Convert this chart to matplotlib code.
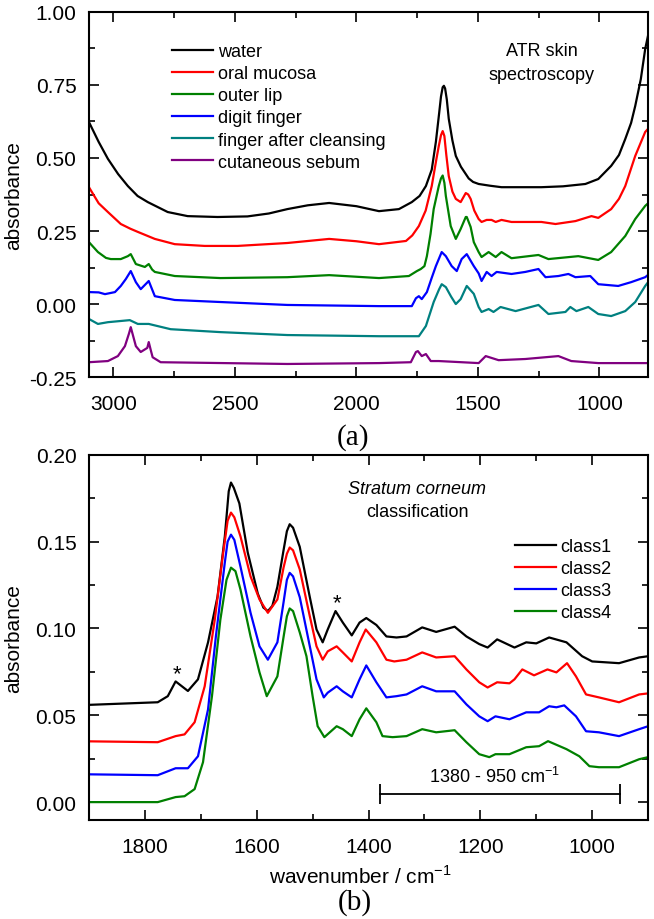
import numpy as np
import matplotlib.pyplot as plt
from matplotlib.ticker import MultipleLocator

plt.rcParams['font.family'] = ['Liberation Sans', 'DejaVu Sans']

# ---- panel (a): ATR skin spectra ----
labels_a = ['water', 'oral mucosa', 'outer lip', 'digit finger',
            'finger after cleansing', 'cutaneous sebum']
colors_a = ['#000000', '#ff0000', '#008000', '#0000ff', '#008080', '#800080']

wn_water = [3100, 3060, 3022, 2980, 2940, 2900, 2858, 2776, 2694, 2571, 2448, 2360, 2284,
            2200, 2112, 2000, 1907, 1825, 1772, 1740, 1714, 1690, 1673, 1660, 1652, 1645, 1640,
            1635, 1628, 1620, 1605, 1591, 1570, 1550, 1538, 1520, 1497, 1450, 1403, 1300, 1239,
            1150, 1058, 1005, 952, 920, 894, 870, 853, 830, 812, 800]
ab_water = [0.623, 0.555, 0.497, 0.445, 0.404, 0.37, 0.349, 0.315, 0.301, 0.298, 0.30, 0.31, 0.325,
            0.338, 0.346, 0.335, 0.318, 0.325, 0.349, 0.37, 0.404, 0.46, 0.555, 0.65, 0.71, 0.742, 0.747,
            0.738, 0.70, 0.634, 0.56, 0.507, 0.47, 0.445, 0.43, 0.418, 0.411, 0.405, 0.40, 0.40, 0.40,
            0.403, 0.411, 0.428, 0.473, 0.51, 0.565, 0.62, 0.678, 0.77, 0.873, 0.92]

wn_mucosa = [3100, 3060, 3022, 2969, 2930, 2899, 2829, 2747, 2624, 2489, 2284, 2112, 2000,
             1907, 1796, 1770, 1743, 1715, 1690, 1670, 1661, 1652, 1645, 1638, 1630, 1620, 1605,
             1591, 1571, 1550, 1540, 1530, 1515, 1497, 1485, 1464, 1444, 1427, 1403, 1362,
             1239, 1181, 1099, 1033, 1005, 952, 920, 894, 853, 812, 800]
ab_mucosa = [0.40, 0.345, 0.315, 0.274, 0.258, 0.247, 0.223, 0.205, 0.199, 0.199, 0.209, 0.223, 0.215,
             0.205, 0.216, 0.235, 0.267, 0.32, 0.404, 0.50, 0.541, 0.578, 0.592, 0.575, 0.51, 0.438, 0.385,
             0.36, 0.349, 0.38, 0.375, 0.36, 0.32, 0.291, 0.281, 0.288, 0.288, 0.281, 0.288, 0.281,
             0.281, 0.274, 0.284, 0.301, 0.295, 0.325, 0.36, 0.404, 0.507, 0.589, 0.60]

wn_lip = [3100, 3063, 3030, 3010, 2969, 2940, 2928, 2915, 2907, 2870, 2854, 2840, 2829, 2747,
          2559, 2284, 2112, 1907, 1784, 1751, 1735, 1720, 1710, 1695, 1682, 1661, 1652, 1645,
          1638, 1632, 1612, 1591, 1571, 1550, 1546, 1530, 1517, 1497, 1485, 1456, 1427, 1403, 1362,
          1251, 1210, 1087, 1005, 952, 894, 853, 812, 800]
ab_lip = [0.212, 0.178, 0.158, 0.154, 0.154, 0.164, 0.171, 0.15, 0.137, 0.127, 0.137, 0.118, 0.11, 0.096,
          0.089, 0.092, 0.099, 0.089, 0.096, 0.113, 0.12, 0.13, 0.164, 0.24, 0.325, 0.404, 0.43, 0.44,
          0.415, 0.37, 0.267, 0.223, 0.257, 0.298, 0.298, 0.264, 0.212, 0.178, 0.161, 0.178, 0.161, 0.178, 0.157,
          0.168, 0.154, 0.164, 0.151, 0.178, 0.233, 0.291, 0.336, 0.345]

wn_finger = [3100, 3060, 3034, 2993, 2969, 2948, 2928, 2907, 2887, 2854, 2829, 2747, 2559, 2284,
             1907, 1772, 1755, 1743, 1731, 1710, 1690, 1673, 1649, 1632, 1608, 1587, 1567, 1546,
             1517, 1497, 1485, 1464, 1444, 1423, 1362, 1305, 1251, 1222, 1169, 1128, 1099, 1038,
             1005, 923, 870, 812, 800]
ab_finger = [0.041, 0.04, 0.034, 0.041, 0.062, 0.086, 0.113, 0.075, 0.051, 0.079, 0.027, 0.014, 0.007, -0.003,
             -0.007, -0.007, 0.02, 0.027, 0.017, 0.041, 0.09, 0.13, 0.178, 0.164, 0.13, 0.113, 0.154, 0.171,
             0.13, 0.105, 0.079, 0.11, 0.096, 0.11, 0.103, 0.11, 0.12, 0.092, 0.096, 0.103, 0.092, 0.096,
             0.068, 0.062, 0.075, 0.092, 0.10]

wn_clean = [3100, 3063, 3022, 2932, 2899, 2854, 2764, 2559, 2284, 1907, 1743, 1714, 1682, 1660,
            1649, 1632, 1610, 1591, 1571, 1546, 1517, 1497, 1485, 1456, 1436, 1407, 1345, 1251,
            1210, 1140, 1120, 1095, 1046, 1005, 952, 894, 853, 812, 800]
ab_clean = [-0.051, -0.068, -0.062, -0.055, -0.068, -0.068, -0.086, -0.096, -0.106, -0.11, -0.11, -0.075, 0.007, 0.05,
            0.068, 0.058, 0.025, 0.0, 0.017, 0.062, 0.035, -0.01, -0.027, -0.017, -0.027, -0.01, -0.024, -0.003,
            -0.034, -0.027, -0.01, -0.024, -0.01, -0.034, -0.041, -0.024, 0.007, 0.062, 0.075]

wn_sebum = [3100, 3022, 2981, 2952, 2935, 2928, 2918, 2907, 2887, 2860, 2854, 2845, 2838, 2805,
            2284, 1907, 1776, 1755, 1747, 1731, 1714, 1694, 1661, 1497, 1468, 1415, 1305, 1169,
            1116, 1005, 800]
ab_sebum = [-0.199, -0.195, -0.178, -0.144, -0.10, -0.079, -0.11, -0.144, -0.164, -0.15, -0.13, -0.16, -0.182, -0.199,
            -0.205, -0.202, -0.199, -0.164, -0.161, -0.178, -0.171, -0.195, -0.195, -0.202, -0.178, -0.192, -0.188, -0.178,
            -0.195, -0.202, -0.202]

wn_a = [wn_water, wn_mucosa, wn_lip, wn_finger, wn_clean, wn_sebum]
ab_a = [ab_water, ab_mucosa, ab_lip, ab_finger, ab_clean, ab_sebum]

# ---- panel (b): stratum corneum classes ----
labels_b = ['class1', 'class2', 'class3', 'class4']
colors_b = ['#000000', '#ff0000', '#0000ff', '#008000']

wn_c1 = [1900, 1777, 1759, 1745, 1735, 1723, 1705, 1687, 1670, 1657, 1650, 1646, 1641, 1631, 1616,
         1598, 1588, 1580, 1572, 1563, 1552, 1546, 1541, 1535, 1523, 1505, 1493, 1482, 1473, 1459,
         1446, 1430, 1416, 1404, 1386, 1368, 1350, 1332, 1304, 1279, 1246, 1225, 1202, 1187, 1170,
         1139, 1118, 1100, 1077, 1046, 1018, 1000, 952, 916, 900]
ab_c1 = [0.056, 0.0575, 0.061, 0.0695, 0.067, 0.064, 0.0707, 0.092, 0.1184, 0.153, 0.179, 0.184, 0.181, 0.172, 0.1437,
         0.12, 0.112, 0.11, 0.113, 0.124, 0.145, 0.156, 0.16, 0.158, 0.147, 0.118, 0.0994, 0.092, 0.0994, 0.11,
         0.1034, 0.096, 0.1034, 0.106, 0.102, 0.0954, 0.0948, 0.0954, 0.1006, 0.098, 0.101, 0.0954, 0.091, 0.089, 0.0937,
         0.089, 0.092, 0.0914, 0.0948, 0.092, 0.084, 0.081, 0.08, 0.0833, 0.084]

wn_c2 = [1900, 1777, 1745, 1729, 1711, 1693, 1675, 1661, 1652, 1646, 1640, 1629, 1611, 1595, 1580,
         1563, 1552, 1546, 1541, 1535, 1523, 1505, 1493, 1482, 1473, 1457, 1446, 1430, 1416, 1405,
         1386, 1368, 1354, 1332, 1304, 1279, 1246, 1225, 1202, 1187, 1170, 1148, 1139, 1125, 1104,
         1080, 1064, 1045, 1029, 1011, 988, 952, 916, 900]
ab_c2 = [0.035, 0.0345, 0.038, 0.039, 0.046, 0.0667, 0.105, 0.141, 0.162, 0.1667, 0.164, 0.153, 0.13, 0.1167, 0.109,
         0.1167, 0.135, 0.143, 0.1466, 0.145, 0.134, 0.107, 0.0897, 0.082, 0.0868, 0.0897, 0.0862, 0.081, 0.092, 0.0994,
         0.092, 0.082, 0.081, 0.082, 0.0862, 0.0833, 0.084, 0.0764, 0.069, 0.066, 0.069, 0.0684, 0.0707, 0.0764, 0.073,
         0.0764, 0.0747, 0.08, 0.0724, 0.062, 0.0603, 0.0575, 0.062, 0.0626]

wn_c3 = [1900, 1777, 1745, 1723, 1705, 1687, 1673, 1657, 1652, 1646, 1640, 1629, 1611, 1595, 1580,
         1563, 1552, 1546, 1541, 1535, 1523, 1505, 1493, 1480, 1473, 1457, 1446, 1430, 1416, 1404,
         1386, 1368, 1350, 1332, 1304, 1279, 1246, 1225, 1202, 1187, 1173, 1148, 1118, 1095, 1077,
         1064, 1050, 1029, 1011, 988, 952, 916, 900]
ab_c3 = [0.016, 0.0155, 0.0195, 0.0195, 0.0264, 0.0534, 0.0954, 0.138, 0.150, 0.154, 0.151, 0.1356, 0.109, 0.0897, 0.082,
         0.092, 0.115, 0.128, 0.132, 0.130, 0.118, 0.0897, 0.0707, 0.0603, 0.063, 0.0667, 0.0638, 0.0603, 0.0707, 0.0787,
         0.069, 0.0603, 0.061, 0.062, 0.0667, 0.0638, 0.0638, 0.0563, 0.0494, 0.0466, 0.0494, 0.0477, 0.0517, 0.0517, 0.0552,
         0.0546, 0.0557, 0.0494, 0.0408, 0.0402, 0.038, 0.042, 0.0437]

wn_c4 = [1900, 1777, 1745, 1729, 1711, 1696, 1680, 1665, 1654, 1646, 1638, 1629, 1611, 1595, 1582,
         1563, 1552, 1546, 1541, 1535, 1523, 1511, 1500, 1491, 1479, 1457, 1446, 1430, 1416, 1404,
         1386, 1375, 1357, 1332, 1304, 1279, 1246, 1225, 1202, 1184, 1173, 1148, 1118, 1095, 1079,
         1046, 1023, 1005, 988, 952, 916, 900]
ab_c4 = [0.0, 0.0, 0.0029, 0.0034, 0.0075, 0.023, 0.061, 0.105, 0.128, 0.135, 0.133, 0.1224, 0.0954, 0.0747, 0.061,
         0.0724, 0.095, 0.107, 0.1115, 0.110, 0.0977, 0.084, 0.061, 0.0437, 0.0374, 0.0437, 0.042, 0.038, 0.0477, 0.054,
         0.046, 0.038, 0.0374, 0.038, 0.042, 0.0402, 0.0414, 0.0345, 0.0276, 0.0259, 0.0276, 0.0276, 0.0316, 0.0322, 0.0351,
         0.0305, 0.0264, 0.0207, 0.0201, 0.0201, 0.0247, 0.0259]

wn_b = [wn_c1, wn_c2, wn_c3, wn_c4]
ab_b = [ab_c1, ab_c2, ab_c3, ab_c4]

bracket_range = [1380, 950]
star_wn = [1743, 1457]

fig = plt.figure(figsize=(6.54, 9.2), dpi=100)
ax1 = fig.add_axes([0.136, 0.589, 0.855, 0.397])
ax2 = fig.add_axes([0.136, 0.1076, 0.855, 0.397])


def style_axes(ax):
    for sp in ax.spines.values():
        sp.set_linewidth(1.5)
    ax.tick_params(which='both', direction='in', top=True, right=True, width=1.2, labelsize=15)
    ax.tick_params(which='major', length=7)
    ax.tick_params(which='minor', length=4.5)
    ax.tick_params(axis='x', pad=12)
    ax.tick_params(axis='y', pad=9)
    ax.set_ylabel('absorbance', fontsize=15)
    ax.yaxis.set_label_coords(-0.134, 0.5)
    ax.yaxis.label.set_verticalalignment('center')


for w, a, c, l in zip(wn_a, ab_a, colors_a, labels_a):
    ax1.plot(w, a, color=c, lw=1.6, label=l, solid_joinstyle='round')
ax1.set_xlim(3100, 800)
ax1.set_ylim(-0.25, 1.0)
ax1.xaxis.set_major_locator(MultipleLocator(500))
ax1.xaxis.set_minor_locator(MultipleLocator(250))
ax1.yaxis.set_major_locator(MultipleLocator(0.25))
ax1.yaxis.set_minor_locator(MultipleLocator(0.125))
ax1.yaxis.set_major_formatter(plt.FormatStrFormatter('%.2f'))
style_axes(ax1)
ax1.legend(loc='upper left', bbox_to_anchor=(0.1485, 0.914), frameon=False, fontsize=13,
           handlelength=2.28, handletextpad=0.25, labelspacing=0.28, borderpad=0, borderaxespad=0)
ax1.text(0.81, 0.893, 'ATR skin', transform=ax1.transAxes, ha='center', va='center', fontsize=13)
ax1.text(0.81, 0.828, 'spectroscopy', transform=ax1.transAxes, ha='center', va='center', fontsize=13)

for w, a, c, l in zip(wn_b, ab_b, colors_b, labels_b):
    ax2.plot(w, a, color=c, lw=1.6, label=l, solid_joinstyle='round')
ax2.set_xlim(1900, 900)
ax2.set_ylim(-0.0103, 0.2)
ax2.xaxis.set_major_locator(MultipleLocator(200))
ax2.xaxis.set_minor_locator(MultipleLocator(100))
ax2.yaxis.set_major_locator(MultipleLocator(0.05))
ax2.yaxis.set_minor_locator(MultipleLocator(0.025))
ax2.yaxis.set_major_formatter(plt.FormatStrFormatter('%.2f'))
style_axes(ax2)
ax2.set_xlabel('wavenumber / cm$^{\\mathregular{-1}}$', fontsize=15)
ax2.xaxis.set_label_coords(0.485, -0.151)
ax2.xaxis.label.set_verticalalignment('center')
ax2.legend(loc='upper left', bbox_to_anchor=(0.762, 0.772), frameon=False, fontsize=13,
           handlelength=2.28, handletextpad=0.25, labelspacing=0.28, borderpad=0, borderaxespad=0)
ax2.text(0.587, 0.907, 'Stratum corneum', transform=ax2.transAxes, ha='center', va='center',
         fontsize=13, style='italic')
ax2.text(0.587, 0.844, 'classification', transform=ax2.transAxes, ha='center', va='center', fontsize=13)

# bracket marking the fingerprint region
ax2.plot(bracket_range, [0.0046, 0.0046], color='k', lw=1.3)
ax2.vlines(bracket_range, -0.0011, 0.0103, color='k', lw=1.3)
ax2.text(np.mean(bracket_range) + 10, 0.0115, '1380 - 950 cm$^{\\mathregular{-1}}$', ha='center',
         va='baseline', fontsize=13)

ax2.text(star_wn[0], 0.0705, '*', ha='center', va='baseline', fontsize=16)
ax2.text(star_wn[1], 0.1118, '*', ha='center', va='baseline', fontsize=16)

fig.text(353 / 654, 1 - 438 / 920, '(a)', ha='center', va='center', fontsize=21,
         family='Liberation Serif')
fig.text(355 / 654, 1 - 903 / 920, '(b)', ha='center', va='center', fontsize=21,
         family='Liberation Serif')

fig.savefig('out.png', dpi=100)
